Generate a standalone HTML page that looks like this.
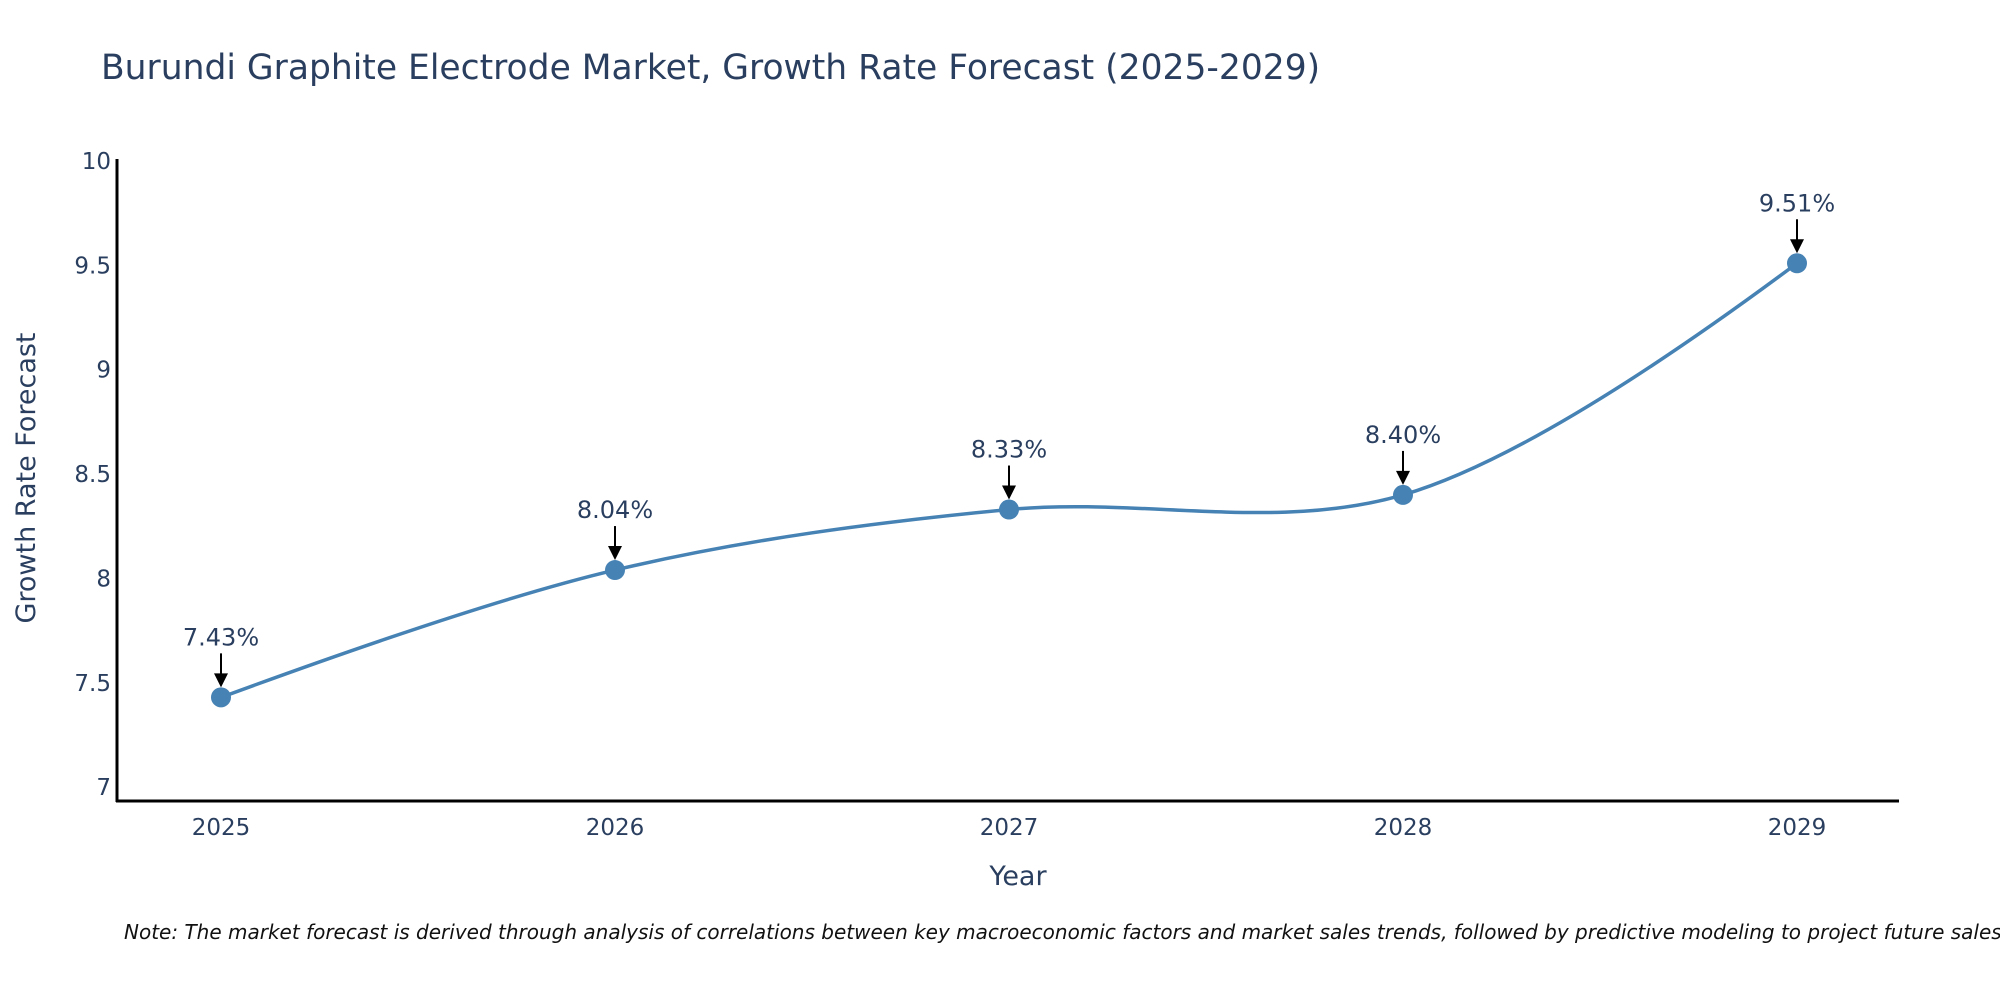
<!DOCTYPE html>
<html><head><meta charset="utf-8"><style>
body{margin:0;background:#fff;}
svg{display:block;font-family:"DejaVu Sans","Liberation Sans",sans-serif;}
</style></head><body>
<svg id="chart" width="2000" height="1000" viewBox="0 0 2000 1000">
<text x="101" y="79" font-size="34.5" fill="#2a3f5f">Burundi Graphite Electrode Market, Growth Rate Forecast (2025-2029)</text>
<g id="yticks"></g>
<g id="xticks"></g>
<line x1="117" y1="159" x2="117" y2="802" stroke="#000" stroke-width="3"/>
<line x1="116" y1="801" x2="1899" y2="801" stroke="#000" stroke-width="3"/>
<path id="line" fill="none" stroke="#4682B4" stroke-width="3.5"/>
<g id="marks"></g>
<text x="1018" y="885" font-size="27" fill="#2a3f5f" text-anchor="middle">Year</text>
<text transform="translate(35,478) rotate(-90)" font-size="27" fill="#2a3f5f" text-anchor="middle">Growth Rate Forecast</text>
<text x="124" y="939" font-size="20" font-style="italic" fill="#111">Note: The market forecast is derived through analysis of correlations between key macroeconomic factors and market sales trends, followed by predictive modeling to project future sales.</text>
</svg>
<script>
const years=[2025,2026,2027,2028,2029];
const rates=[7.43,8.04,8.33,8.40,9.51];
const yTickVals=[7,7.5,8,8.5,9,9.5,10];
const yTickLabels=["7","7.5","8","8.5","9","9.5","10"];
const NS="http://www.w3.org/2000/svg";
function xs(v){return 221+(v-2025)*394;}
function ys(v){return 161+(10-v)*208.7;}
function mk(tag,attrs,parent,text){const e=document.createElementNS(NS,tag);for(const k in attrs)e.setAttribute(k,attrs[k]);if(text!=null)e.textContent=text;parent.appendChild(e);return e;}
const yt=document.getElementById('yticks'),xt=document.getElementById('xticks'),marks=document.getElementById('marks');
yTickVals.forEach((v,i)=>{
 const t=mk('text',{x:111,y:ys(v)+8,'font-size':23,fill:'#2a3f5f','text-anchor':'end'},yt,yTickLabels[i]);
 
 
});
years.forEach(v=>{
 const t=mk('text',{x:xs(v),y:835,'font-size':23,fill:'#2a3f5f','text-anchor':'middle'},xt,String(v));
 
 
});
const pts=years.map((y,i)=>[xs(y),ys(rates[i])]);
function tan(a,b,c){const d1x=a[0]-b[0],d1y=a[1]-b[1],d2x=c[0]-b[0],d2y=c[1]-b[1];
 const d1a=Math.pow(d1x*d1x+d1y*d1y,0.25),d2a=Math.pow(d2x*d2x+d2y*d2y,0.25);
 const nx=(d2a*d2a*d1x-d1a*d1a*d2x),ny=(d2a*d2a*d1y-d1a*d1a*d2y);
 const den1=3*d2a*(d1a+d2a),den2=3*d1a*(d1a+d2a);
 return [[b[0]+nx/den1,b[1]+ny/den1],[b[0]-nx/den2,b[1]-ny/den2]];}
const T=[];for(let i=1;i<pts.length-1;i++)T.push(tan(pts[i-1],pts[i],pts[i+1]));
let d=`M${pts[0]}Q${T[0][0]} ${pts[1]}`;
for(let i=2;i<pts.length-1;i++)d+=`C${T[i-2][1]} ${T[i-1][0]} ${pts[i]}`;
d+=`Q${T[T.length-1][1]} ${pts[pts.length-1]}`;
document.getElementById('line').setAttribute('d',d);
pts.forEach((p,i)=>{
 const c=mk('circle',{cx:p[0],cy:p[1],r:10,fill:'#4682B4'},marks);
 
 
 const l=mk('line',{x1:p[0],y1:p[1]-44,x2:p[0],y2:p[1]-22,stroke:'#000','stroke-width':2},marks);
 
 
 const h=mk('polygon',{points:`${p[0]-7},${p[1]-24} ${p[0]+7},${p[1]-24} ${p[0]},${p[1]-10}`,fill:'#000'},marks);
 
 
 const t=mk('text',{x:p[0],y:p[1]-52,'font-size':24,fill:'#2a3f5f','text-anchor':'middle'},marks,rates[i].toFixed(2)+'%');
 
 
});
</script>
</body></html>
